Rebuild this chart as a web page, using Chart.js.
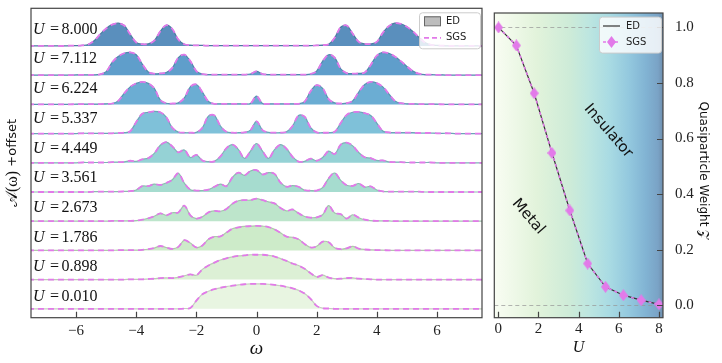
<!DOCTYPE html>
<html>
<head>
<meta charset="utf-8">
<script src="https://cdn.jsdelivr.net/npm/chart.js@4.4.0/dist/chart.umd.min.js"></script>
<style>
  html, body { margin: 0; padding: 0; background: #fff; }
  #wrap { position: relative; width: 722px; height: 363px; overflow: hidden; }
  #left { position: absolute; left: 0; top: 0; }
  #right { position: absolute; left: 485px; top: 0; }
</style>
</head>
<body>
<div id="wrap">
  <canvas id="left" width="490" height="363"></canvas>
  <canvas id="right" width="237" height="363"></canvas>
</div>
<script>
// ---- data: spectral functions A(w), one array per U ----
const omega = [-7.6,-7.4,-7.2,-7.0,-6.8,-6.6,-6.4,-6.2,-6.0,-5.8,-5.6,
  -5.4,-5.2,-5.0,-4.8,-4.6,-4.4,-4.2,-4.0,-3.8,-3.6,
  -3.4,-3.2,-3.0,-2.8,-2.6,-2.4,-2.2,-2.0,-1.8,-1.6,
  -1.4,-1.2,-1.0,-0.8,-0.6,-0.4,-0.2,0,0.2,0.4,0.6,0.8,1.0,1.2,1.4,
  1.6,1.8,2.0,2.2,2.4,2.6,2.8,3.0,3.2,3.4,
  3.6,3.8,4.0,4.2,4.4,4.6,4.8,5.0,5.2,5.4,
  5.6,5.8,6.0,6.2,6.4,6.6,6.8,7.0,7.2,7.4,7.6]

const a_8000 = [0,0,0,0,0,0,0,0.01,0.01,0.02,0.05,
  0.18,0.40,0.60,0.73,0.78,0.70,0.40,0.12,0.06,0.07,
  0.18,0.50,0.71,0.58,0.22,0.06,0.03,0.02,0.02,0.01,
  0.01,0.01,0.01,0.01,0.01,0.01,0.01,0.01,0.01,0.01,0.01,0.01,0.01,0.01,0.01,
  0.01,0.01,0.02,0.03,0.06,0.28,0.64,0.70,0.42,0.14,
  0.07,0.07,0.14,0.45,0.68,0.78,0.76,0.66,0.50,0.30,
  0.12,0.04,0.02,0.01,0,0,0,0,0,0,0]
const a_7112 = [0,0,0,0,0,0,0,0,0.01,0.01,0.01,
  0.01,0.03,0.12,0.44,0.64,0.75,0.78,0.70,0.38,0.11,
  0.05,0.06,0.09,0.25,0.60,0.70,0.48,0.14,0.04,0.02,
  0.02,0.02,0.02,0.02,0.02,0.02,0.04,0.13,0.04,0.02,0.02,0.02,0.02,0.02,0.02,
  0.02,0.04,0.14,0.48,0.70,0.60,0.22,0.07,0.05,0.06,
  0.09,0.35,0.67,0.78,0.75,0.64,0.48,0.30,0.14,0.05,
  0.02,0.02,0.01,0.01,0,0,0,0,0,0,0]
const a_6224 = [0,0,0,0,0,0,0,0,0.01,0.01,0.01,
  0.01,0.01,0.02,0.03,0.12,0.38,0.60,0.72,0.77,0.72,
  0.55,0.15,0.04,0.03,0.05,0.22,0.60,0.68,0.42,0.10,
  0.02,0.02,0.02,0.02,0.02,0.02,0.03,0.28,0.03,0.02,0.02,0.02,0.02,0.02,0.02,
  0.09,0.45,0.66,0.55,0.18,0.05,0.03,0.04,0.12,0.42,
  0.68,0.77,0.73,0.60,0.36,0.12,0.04,0.02,0.02,0.01,
  0.01,0.01,0.01,0,0,0,0,0,0,0,0]
const a_5337 = [0,0,0,0,0,0,0,0,0,0.01,0.01,
  0.01,0.01,0.01,0.01,0.02,0.03,0.08,0.40,0.68,0.73,
  0.76,0.73,0.56,0.20,0.05,0.03,0.03,0.04,0.20,0.60,
  0.62,0.26,0.06,0.03,0.03,0.04,0.12,0.42,0.12,0.04,0.03,0.03,0.06,0.26,0.62,
  0.58,0.20,0.04,0.03,0.03,0.06,0.36,0.64,0.73,0.74,
  0.70,0.62,0.36,0.09,0.04,0.03,0.03,0.03,0.03,0.02,
  0.02,0.02,0.01,0.01,0.01,0,0,0,0,0,0]
const a_4449 = [0,0,0,0,0,0,0,0,0,0.01,0.01,
  0.01,0.01,0.01,0.02,0.02,0.03,0.07,0.05,0.12,0.16,
  0.32,0.60,0.71,0.56,0.36,0.44,0.18,0.27,0.08,0.04,
  0.05,0.22,0.50,0.62,0.45,0.15,0.40,0.66,0.40,0.15,0.45,0.62,0.48,0.20,0.04,
  0.05,0.14,0.07,0.18,0.40,0.30,0.62,0.69,0.58,0.35,
  0.19,0.16,0.08,0.08,0.03,0.02,0.02,0.01,0.01,0.01,
  0.01,0.01,0,0,0,0,0,0,0,0,0]
const a_3561 = [0,0,0,0,0,0,0,0,0,0,0,
  0.01,0.01,0.01,0.01,0.01,0.02,0.03,0.07,0.20,0.20,
  0.27,0.24,0.31,0.42,0.64,0.30,0.08,0.05,0.05,0.08,
  0.18,0.27,0.20,0.50,0.66,0.57,0.72,0.75,0.60,0.66,0.62,0.32,0.18,0.22,0.18,
  0.06,0.05,0.05,0.15,0.47,0.65,0.40,0.23,0.21,0.29,
  0.17,0.19,0.07,0.02,0.01,0.01,0.01,0.01,0.01,0.01,
  0,0,0,0,0,0,0,0,0,0,0]
const a_2673 = [0,0,0,0,0,0,0,0,0,0,0,
  0,0,0,0.01,0.01,0.01,0.01,0.02,0.05,0.10,
  0.17,0.27,0.20,0.29,0.30,0.53,0.20,0.09,0.15,0.30,
  0.35,0.34,0.42,0.60,0.70,0.72,0.72,0.77,0.72,0.66,0.61,0.45,0.35,0.40,0.27,
  0.16,0.12,0.13,0.22,0.53,0.28,0.24,0.09,0.22,0.12,
  0.05,0.02,0.01,0.01,0.01,0,0,0,0,0,
  0,0,0,0,0,0,0,0,0,0,0]
const a_1786 = [0,0,0,0,0,0,0,0,0,0,0,
  0,0,0,0,0.01,0.01,0.01,0.01,0.02,0.04,
  0.08,0.15,0.10,0.05,0.12,0.35,0.25,0.10,0.17,0.38,
  0.47,0.48,0.61,0.74,0.79,0.82,0.83,0.84,0.83,0.80,0.72,0.60,0.47,0.45,0.38,
  0.22,0.10,0.14,0.30,0.28,0.09,0.04,0.07,0.14,0.06,
  0.03,0.02,0.01,0.01,0,0,0,0,0,0,
  0,0,0,0,0,0,0,0,0,0,0]
const a_0898 = [0,0,0,0,0,0,0,0,0,0,0,
  0,0,0,0,0,0,0.01,0.01,0.01,0.02,
  0.03,0.05,0.06,0.05,0.08,0.13,0.18,0.15,0.35,0.48,
  0.58,0.67,0.73,0.78,0.81,0.83,0.85,0.85,0.85,0.83,0.79,0.72,0.64,0.55,0.48,
  0.37,0.22,0.09,0.15,0.07,0.03,0.03,0.05,0.06,0.03,
  0.02,0.01,0,0,0,0,0,0,0,0,
  0,0,0,0,0,0,0,0,0,0,0]
const a_0010 = [0,0,0,0,0,0,0,0,0,0,0,
  0,0,0,0,0,0,0,0,0,0,
  0,0,0,0,0,0.01,0.03,0.28,0.50,0.60,
  0.67,0.72,0.76,0.79,0.82,0.84,0.85,0.85,0.85,0.84,0.82,0.79,0.75,0.70,0.63,
  0.52,0.34,0.10,0.02,0.01,0,0,0,0,0,
  0,0,0,0,0,0,0,0,0,0,
  0,0,0,0,0,0,0,0,0,0,0]

const uLabels = ['0.010','0.898','1.786','2.673','3.561','4.449','5.337','6.224','7.112','8.000']
const spectra = [a_0010, a_0898, a_1786, a_2673, a_3561, a_4449, a_5337, a_6224, a_7112, a_8000]
const omegaTicks = [-6, -4, -2, 0, 2, 4, 6]

// ---- data: quasiparticle weight vs U ----
const uValues = [0.010, 0.898, 1.786, 2.673, 3.561, 4.449, 5.337, 6.224, 7.112, 8.000]
const zED = [1.000, 0.935, 0.763, 0.548, 0.341, 0.150, 0.066, 0.036, 0.018, 0.003]
const zSGS = [1.000, 0.935, 0.763, 0.548, 0.341, 0.150, 0.066, 0.036, 0.018, 0.003]
const uTicks = [0, 2, 4, 6, 8]
const zTicks = [0, 0.2, 0.4, 0.6, 0.8, 1.0]

// ---- styles ----
const SERIF = '"Liberation Serif", "DejaVu Serif", serif'
const SANS = '"DejaVu Sans", "Noto Sans", sans-serif'
const MAGENTA = '#e27ae9'
const fillColors = ['#e8f5e1', '#dcf0d5', '#cdebc9', '#bde5cb', '#a6dccf', '#95d2d5',
  '#7fc1d9', '#6badd3', '#5f9ecb', '#5a8fbd']

function shade(hex, f) {
  const n = parseInt(hex.slice(1), 16)
  const r = Math.round(((n >> 16) & 255) * f)
  const g = Math.round(((n >> 8) & 255) * f)
  const b = Math.round((n & 255) * f)
  return 'rgb(' + r + ',' + g + ',' + b + ')'
}

function minus(v) {
  return v < 0 ? '\u2212' + Math.abs(v) : String(v)
}

function legendBox(ctx, x, y, w, h) {
  ctx.save()
  ctx.fillStyle = 'rgba(255,255,255,0.82)'
  ctx.strokeStyle = '#cccccc'
  ctx.lineWidth = 1
  ctx.beginPath()
  ctx.roundRect(x + 0.5, y + 0.5, w, h, 3)
  ctx.fill()
  ctx.stroke()
  ctx.restore()
}

function diamond(w, h, color) {
  const c = document.createElement('canvas')
  c.width = w
  c.height = h
  const g = c.getContext('2d')
  g.fillStyle = color
  g.beginPath()
  g.moveTo(w / 2, 0)
  g.lineTo(w, h / 2)
  g.lineTo(w / 2, h)
  g.lineTo(0, h / 2)
  g.closePath()
  g.fill()
  return c
}
const diamondMark = diamond(9, 12, MAGENTA)

// ---------------- left panel ----------------
const leftSets = []
spectra.forEach((arr, i) => {
  const pts = omega.map((w, j) => ({ x: w, y: i + arr[j] }))
  leftSets.push({
    label: 'SGS U=' + uLabels[i], data: pts, order: 0,
    borderColor: MAGENTA, borderWidth: 1.8, borderDash: [6, 4],
    fill: false, pointRadius: 0, tension: 0.35
  })
  leftSets.push({
    label: 'ED U=' + uLabels[i], data: pts, order: 1,
    borderColor: shade(fillColors[i], 0.85), backgroundColor: fillColors[i],
    borderWidth: 1.2, fill: { value: i }, pointRadius: 0, tension: 0.35
  })
})

const leftDecor = {
  id: 'leftDecor',
  afterDraw(chart) {
    const { ctx, chartArea: a, scales: { x, y } } = chart
    ctx.save()
    // frame + inward ticks
    ctx.strokeStyle = '#444'
    ctx.lineWidth = 1.2
    ctx.strokeRect(a.left, a.top, a.right - a.left, a.bottom - a.top)
    ctx.beginPath()
    omegaTicks.forEach(v => {
      const px = Math.round(x.getPixelForValue(v)) + 0.5
      ctx.moveTo(px, a.bottom)
      ctx.lineTo(px, a.bottom - 6)
    })
    ctx.stroke()

    // row labels
    ctx.fillStyle = '#111'
    ctx.textAlign = 'left'
    ctx.textBaseline = 'middle'
    uLabels.forEach((lab, i) => {
      const py = y.getPixelForValue(i * 1.018 + 0.404)
      const px = a.left + 2
      ctx.font = 'italic 16px ' + SERIF
      ctx.fillText('U', px, py)
      ctx.font = '16px ' + SERIF
      ctx.fillText('=', px + 17, py)
      ctx.fillText(lab, px + 28.5, py)
    })

    // axis titles
    ctx.textAlign = 'center'
    ctx.font = 'italic 19px ' + SERIF
    ctx.fillText('\u03c9', x.getPixelForValue(0), 349)
    ctx.save()
    ctx.translate(13, (a.top + a.bottom) / 2)
    ctx.rotate(-Math.PI / 2)
    ctx.font = '16px ' + SERIF
    const t1 = '\ud835\udc9c(\u03c9)'
    const w1 = ctx.measureText(t1).width
    ctx.font = '13px ' + SANS
    const t2 = ' +offset'
    const w2 = ctx.measureText(t2).width
    ctx.textAlign = 'left'
    ctx.font = '16px ' + SERIF
    ctx.fillText(t1, -(w1 + w2) / 2, 0)
    ctx.font = '13px ' + SANS
    ctx.fillText(t2, -(w1 + w2) / 2 + w1, 0)
    ctx.restore()

    // legend
    const bx = a.right - 63, by = a.top + 4
    legendBox(ctx, bx, by, 61, 36)
    ctx.fillStyle = '#bdbdbd'
    ctx.strokeStyle = '#666'
    ctx.lineWidth = 1
    ctx.fillRect(bx + 5, by + 4, 16, 9)
    ctx.strokeRect(bx + 5.5, by + 4.5, 16, 9)
    ctx.strokeStyle = MAGENTA
    ctx.lineWidth = 1.8
    ctx.setLineDash([5, 3])
    ctx.beginPath()
    ctx.moveTo(bx + 5, by + 25.5)
    ctx.lineTo(bx + 22, by + 25.5)
    ctx.stroke()
    ctx.setLineDash([])
    ctx.fillStyle = '#222'
    ctx.font = '10px ' + SANS
    ctx.textAlign = 'left'
    ctx.fillText('ED', bx + 27, by + 9)
    ctx.fillText('SGS', bx + 27, by + 25.5)
    ctx.restore()
  }
}

new Chart(document.getElementById('left'), {
  type: 'line',
  data: { datasets: leftSets },
  options: {
    responsive: false, animation: false, devicePixelRatio: 1,
    layout: { padding: { top: 8.3, right: 8, left: 0, bottom: 0 } },
    plugins: { legend: { display: false }, tooltip: { enabled: false } },
    scales: {
      x: {
        type: 'linear', min: -7.5, max: 7.5,
        grid: { display: false }, border: { display: false },
        afterBuildTicks: s => { s.ticks = omegaTicks.map(v => ({ value: v })) },
        afterFit: s => { s.height = 45.3 },
        ticks: { callback: minus, maxRotation: 0, autoSkip: false, padding: -4,
          color: '#222', font: { family: SERIF, size: 15 } }
      },
      y: {
        type: 'linear', min: -0.305, max: 10.29,
        grid: { display: false }, border: { display: false },
        ticks: { display: false },
        afterFit: s => { s.width = 31 }
      }
    }
  },
  plugins: [leftDecor]
})

// ---------------- right panel ----------------
const rightDecor = {
  id: 'rightDecor',
  beforeDatasetsDraw(chart) {
    const { ctx, chartArea: a, scales: { y } } = chart
    ctx.save()
    const g = ctx.createLinearGradient(a.left, 0, a.right, 0)
    g.addColorStop(0, '#f9fdf3')
    g.addColorStop(0.25, '#e2f3db')
    g.addColorStop(0.45, '#cdebd8')
    g.addColorStop(0.56, '#bde6e0')
    g.addColorStop(0.68, '#a9dbe3')
    g.addColorStop(0.8, '#93c8de')
    g.addColorStop(0.9, '#81b3d3')
    g.addColorStop(0.97, '#7aa3c6')
    g.addColorStop(1, '#6f8fae')
    ctx.fillStyle = g
    ctx.fillRect(a.left, a.top, a.right - a.left, a.bottom - a.top)
    ctx.strokeStyle = 'rgba(150,150,150,0.7)'
    ctx.lineWidth = 1
    ctx.setLineDash([4, 3])
    ;[0, 1].forEach(v => {
      const py = Math.round(y.getPixelForValue(v)) + 0.5
      ctx.beginPath()
      ctx.moveTo(a.left, py)
      ctx.lineTo(a.right, py)
      ctx.stroke()
    })
    ctx.restore()
  },
  afterDraw(chart) {
    const { ctx, chartArea: a, scales: { x, y } } = chart
    ctx.save()
    ctx.strokeStyle = '#444'
    ctx.lineWidth = 1.2
    ctx.strokeRect(a.left, a.top, a.right - a.left, a.bottom - a.top)
    ctx.beginPath()
    uTicks.forEach(v => {
      const px = Math.round(x.getPixelForValue(v)) + 0.5
      ctx.moveTo(px, a.bottom)
      ctx.lineTo(px, a.bottom - 6)
    })
    zTicks.forEach(v => {
      const py = Math.round(y.getPixelForValue(v)) + 0.5
      ctx.moveTo(a.right, py)
      ctx.lineTo(a.right - 6, py)
    })
    ctx.stroke()

    // phase labels
    ctx.fillStyle = '#111'
    ctx.font = '15px ' + SANS
    ctx.textAlign = 'center'
    ctx.textBaseline = 'middle'
    ;[['Insulator', 5.47, 0.627], ['Metal', 1.49, 0.319]].forEach(([t, u, z]) => {
      ctx.save()
      ctx.translate(x.getPixelForValue(u), y.getPixelForValue(z))
      ctx.rotate(49 * Math.PI / 180)
      ctx.fillText(t, 0, 0)
      ctx.restore()
    })

    // axis titles
    ctx.font = 'italic 16px ' + SERIF
    ctx.fillText('U', x.getPixelForValue(4), 347.5)
    ctx.save()
    ctx.translate(a.right + 40, (a.top + a.bottom) / 2 + 5)
    ctx.rotate(Math.PI / 2)
    ctx.font = '12px ' + SANS
    ctx.fillText('Quasiparticle Weight \ud835\udcb5', 0, 0)
    ctx.restore()

    // legend
    const bx = a.right - 64, by = a.top + 3.6
    legendBox(ctx, bx, by, 62, 36)
    ctx.strokeStyle = '#333'
    ctx.lineWidth = 1.2
    ctx.beginPath()
    ctx.moveTo(bx + 4, by + 9.4)
    ctx.lineTo(bx + 21, by + 9.4)
    ctx.stroke()
    ctx.strokeStyle = MAGENTA
    ctx.lineWidth = 1.5
    ctx.setLineDash([3, 3])
    ctx.beginPath()
    ctx.moveTo(bx + 4, by + 25.4)
    ctx.lineTo(bx + 21, by + 25.4)
    ctx.stroke()
    ctx.setLineDash([])
    ctx.drawImage(diamondMark, bx + 12.5 - 4.5, by + 25.4 - 6)
    ctx.fillStyle = '#222'
    ctx.font = '10px ' + SANS
    ctx.textAlign = 'left'
    ctx.fillText('ED', bx + 27, by + 9.4)
    ctx.fillText('SGS', bx + 27, by + 25.4)
    ctx.restore()
  }
}

new Chart(document.getElementById('right'), {
  type: 'line',
  data: {
    datasets: [
      {
        label: 'SGS', data: uValues.map((u, i) => ({ x: u, y: zSGS[i] })), order: 0,
        borderColor: MAGENTA, borderWidth: 1.5, borderDash: [3, 3], fill: false,
        pointStyle: diamondMark, pointRadius: 5, tension: 0
      },
      {
        label: 'ED', data: uValues.map((u, i) => ({ x: u, y: zED[i] })), order: 1,
        borderColor: '#333', borderWidth: 1.2, fill: false, pointRadius: 0, tension: 0
      }
    ]
  },
  options: {
    responsive: false, animation: false, devicePixelRatio: 1,
    layout: { padding: { top: 8.7, left: 9.3, right: 0, bottom: 0 } },
    plugins: { legend: { display: false }, tooltip: { enabled: false } },
    scales: {
      x: {
        type: 'linear', min: -0.2, max: 8.2,
        grid: { display: false }, border: { display: false },
        afterBuildTicks: s => { s.ticks = uTicks.map(v => ({ value: v })) },
        afterFit: s => { s.height = 45.3 },
        ticks: { maxRotation: 0, autoSkip: false, padding: -6,
          color: '#222', font: { family: SERIF, size: 15 } }
      },
      y: {
        type: 'linear', position: 'right', min: -0.045, max: 1.052,
        grid: { display: false }, border: { display: false },
        afterBuildTicks: s => { s.ticks = zTicks.map(v => ({ value: v })) },
        afterFit: s => { s.width = 59 },
        ticks: { callback: v => v.toFixed(1), padding: 4,
          color: '#222', font: { family: SERIF, size: 15 } }
      }
    }
  },
  plugins: [rightDecor]
})
</script>
</body>
</html>
